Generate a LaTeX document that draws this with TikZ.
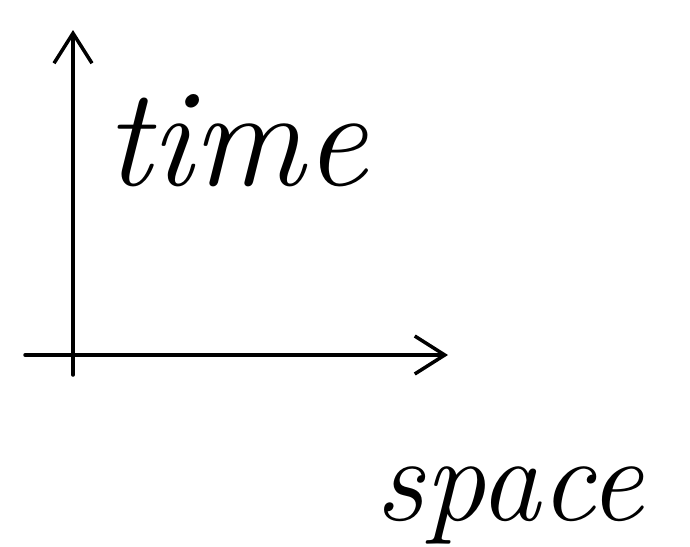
\documentclass[tikz,border=0pt]{standalone}
\usepackage{tikz}
\usetikzlibrary{arrows.meta}

\begin{document}
\begin{tikzpicture}[x=1pt, y=-1pt, >={Straight Barb[length=30pt,width=38pt]}]
  \useasboundingbox (0,0) rectangle (690,546);
  % Axis ends
  \coordinate (tbot) at (73,375);
  \coordinate (ttop) at (73,30);
  \coordinate (sleft) at (25,355);
  \coordinate (sright) at (448,355);
  % Axes
  \draw[->, line width=3.5pt, line cap=round] (tbot) -- (ttop);
  \draw[->, line width=3.5pt, line cap=round] (sleft) -- (sright);
  % Labels
  \node[anchor=base west, inner sep=0pt] (timelbl) at (105,185)
    {\fontsize{140}{140}\selectfont\itshape time};
  \node[anchor=base west, inner sep=0pt] (spacelbl) at (375,520)
    {\fontsize{122}{122}\selectfont\itshape space};
\end{tikzpicture}
\end{document}
